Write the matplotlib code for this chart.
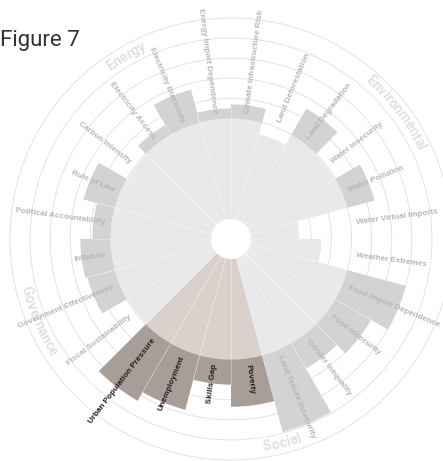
# Circular risk profile (Figure 7) - polar bar chart
import numpy as np
import matplotlib.pyplot as plt
from matplotlib.font_manager import FontProperties

categories = ["Climate Infrastructure Risk", "Land Deforestation", "Land Degradation",
              "Water Insecurity", "Water Pollution", "Water Virtual Imports",
              "Weather Extremes", "Food Import Dependence", "Food Insecurity",
              "Gender Inequality", "Land Tenure Insecurity", "Poverty", "Skills Gap",
              "Unemployment", "Urban Population Pressure", "Fiscal Sustainability",
              "Government Effectiveness", "Inflation", "Political Accountability",
              "Rule of Law", "Carbon Intensity", "Electricity Access",
              "Electricity Blackouts", "Energy Import Dependence"]

# scores on a 0-10 scale
scores = [5.7, 4.4, 6.5, 4.95, 6.4, 2.4, 3.5, 8.0, 7.05, 6.45, 8.95, 7.35, 6.25,
          7.8, 8.3, 4.95, 6.4, 6.5, 5.9, 6.6, 4.95, 5.55, 6.7, 5.5]

highlight = ["Poverty", "Skills Gap", "Unemployment", "Urban Population Pressure"]

groups = ["Environmental", "Social", "Governance", "Energy"]
group_angles = [52.5, 166, 247, 330]   # degrees clockwise from north

threshold = 5
hole = 1
rmax = 11

light_grey, dark_grey = '#e9e9eb', '#d3d3d5'
light_brown, dark_brown = '#dbd1cc', '#a99d98'

fig = plt.figure(figsize=(4.43, 4.61), dpi=100)
W, H = 443, 461
cx, cy, R = 231, 239, 221
ax = fig.add_axes([(cx - R) / W, (H - cy - R) / H, 2 * R / W, 2 * R / H], projection='polar')
ax.set_theta_zero_location('N')
ax.set_theta_direction(-1)
ax.set_ylim(0, rmax)
ax.set_xticks([])
ax.set_yticks([])
ax.grid(False)
ax.spines['polar'].set_visible(False)
ax.patch.set_alpha(0)

px_per_unit = R / rmax
n = len(categories)
width = 2 * np.pi / n
starts = np.arange(n) * width

# grid circles
tt = np.linspace(0, 2 * np.pi, 500)
for r in range(2, rmax + 1):
    ax.plot(tt, np.full_like(tt, r), color='#e3e3e5', lw=0.7, zorder=0, clip_on=False)

# bars: part below the threshold, then the part above it
for i, (cat, s) in enumerate(zip(categories, scores)):
    hi = cat in highlight
    c1 = light_brown if hi else light_grey
    c2 = dark_brown if hi else dark_grey
    ax.bar(starts[i], min(s, threshold), width=width, bottom=hole, align='edge',
           color=c1, edgecolor='none', zorder=2)
    if s > threshold:
        ax.bar(starts[i], s - threshold, width=width, bottom=hole + threshold, align='edge',
               color=c2, edgecolor='none', zorder=2)

# thin separators between sectors
for i in range(n):
    top = hole + min(scores[i], scores[i - 1])
    ax.plot([starts[i], starts[i]], [hole, top], color='white', lw=0.5, alpha=0.45, zorder=3)

# category labels
lab_font = ['Liberation Sans', 'DejaVu Sans']
for i, cat in enumerate(categories):
    th = np.degrees(starts[i] + width / 2)
    if th < 180:
        rot, ha = 90 - th, 'left'
    else:
        rot, ha = 270 - th, 'right'
    col = '#1e1e1e' if cat in highlight else '#b6b6bb'
    ax.text(np.radians(th), 6.3, cat, rotation=rot, rotation_mode='anchor', ha=ha,
            va='center', fontsize=5.9, fontweight='bold', family=lab_font, color=col, zorder=5)

# curved group labels
fp = FontProperties(family=['Roboto', 'DejaVu Sans'], weight='bold', size=10)
renderer = fig.canvas.get_renderer()


def text_w(s):
    if not s:
        return 0.0
    return renderer.get_text_width_height_descent(s, fp, ismath=False)[0]


def arc_text(s, theta_c, r):
    r_px = r * px_per_unit
    full = text_w(s)
    upper = theta_c < 90 or theta_c > 270
    for k, ch in enumerate(s):
        off = np.degrees((text_w(s[:k]) + text_w(ch) / 2 - full / 2) / r_px)
        if upper:
            th = theta_c + off
            rot = -th
        else:
            th = theta_c - off
            rot = 180 - th
        ax.text(np.radians(th), r, ch, rotation=rot, rotation_mode='anchor', ha='center',
                va='center', fontproperties=fp, color='#e1e1e4', zorder=4)


for g, a in zip(groups, group_angles):
    arc_text(g, a, 10.5)

fig.text(0.0, 0.913, 'Figure 7', fontsize=16, family=['Roboto', 'DejaVu Sans'],
         color='#333333', va='center', ha='left')

fig.savefig('out.png', dpi=100)
